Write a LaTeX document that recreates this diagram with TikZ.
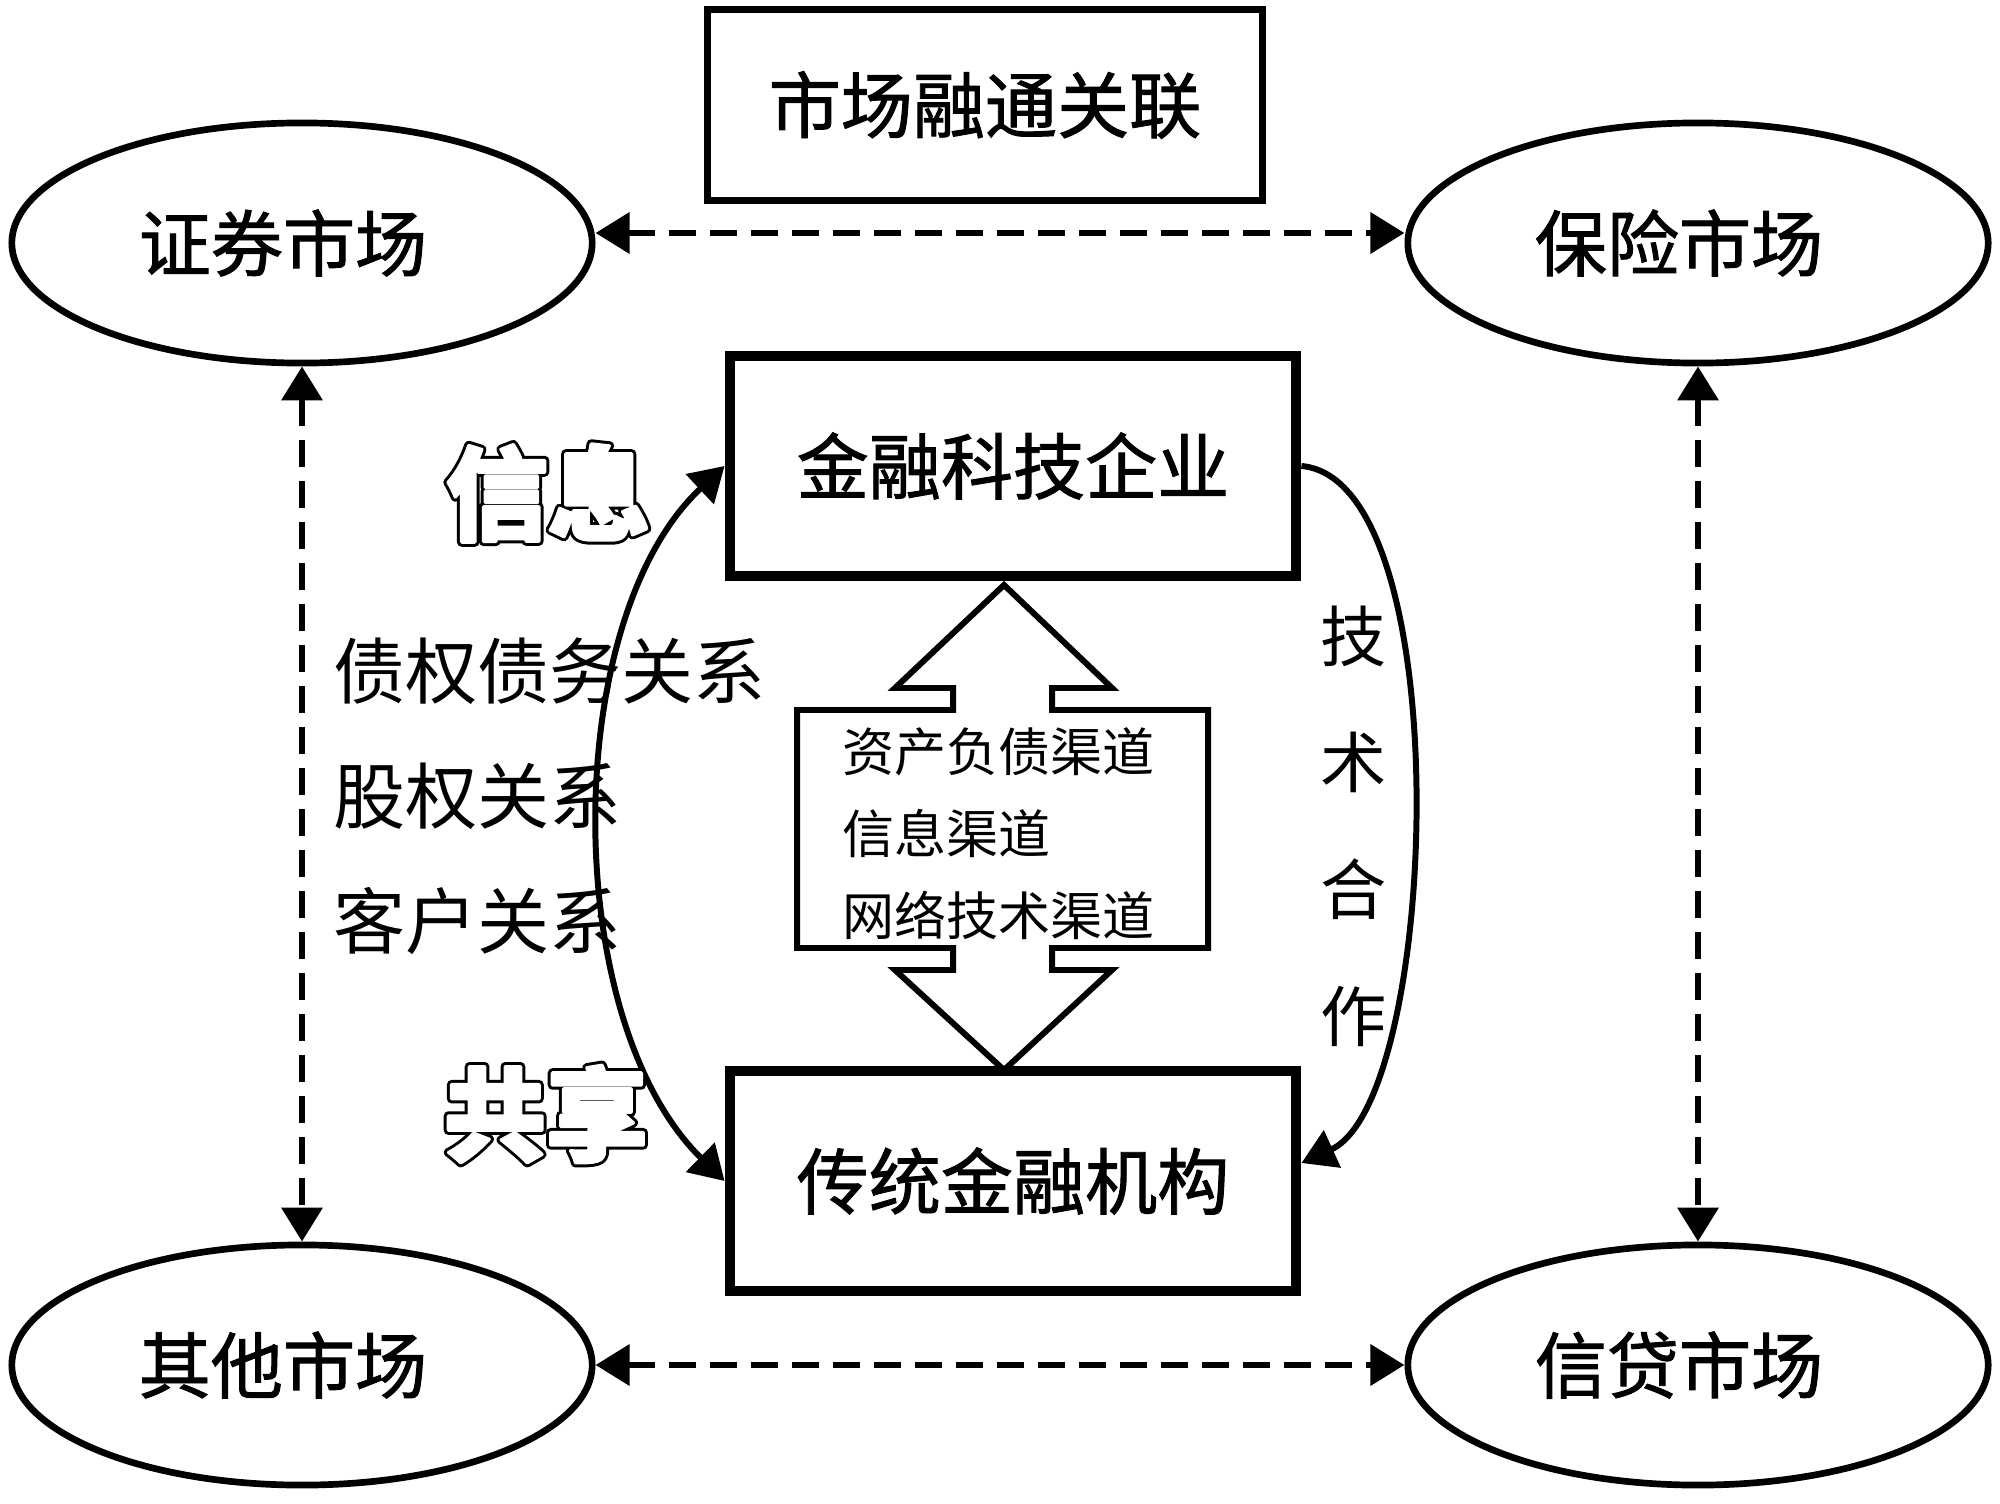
\documentclass[tikz,border=0pt]{standalone}
\usepackage{fontspec}
\newfontfamily\cjk{Noto Sans CJK SC}
\newfontfamily\cjkm[FakeBold=1.3]{Noto Sans CJK SC}
\usetikzlibrary{positioning,arrows.meta,shapes.geometric}
\newcommand\bubbletext[1]{%
  \rlap{\special{pdf:literal direct q 1 Tr 2.6 w 1 j 1 J}#1\special{pdf:literal direct Q}}%
  {\color{white}\special{pdf:literal direct q 2 Tr 0.9 w 1 j 1 J}#1\special{pdf:literal direct Q}}}
\newcommand\mkt[1]{#1\rule{0.38cm}{0pt}}

\begin{document}
\begin{tikzpicture}[
  x=0.01cm, y=-0.01cm,
  >={Triangle[length=0.34cm,width=0.40cm]},
  every node/.style={font=\cjk},
  market/.style={ellipse,draw,line width=1.9pt,minimum width=5.8cm,minimum height=2.4cm,
    font=\cjkm\fontsize{20.5}{24}\selectfont},
  firm/.style={draw,line width=3pt,minimum width=5.66cm,minimum height=2.2cm,
    font=\cjkm\fontsize{20.5}{24}\selectfont},
  link/.style={<->,dash pattern=on 0.27cm off 0.14cm,line width=1.9pt},
  flow/.style={line width=1.7pt},
  bubble/.style={font=\cjk\bfseries\fontsize{29}{32}\selectfont}
]
\useasboundingbox (0,0) rectangle (2000,1503);

% 标题
\node[draw,line width=2pt,minimum width=5.55cm,minimum height=1.9cm,
  font=\cjkm\fontsize{20.5}{24}\selectfont] (title) at (985,105) {市场融通关联};

% 四个市场
\node[market] (zq) at (302,243) {\mkt{证券市场}};
\node[market] (bx) at (1698,243) {\mkt{保险市场}};
\node[market] (qt) at (302,1365) {\mkt{其他市场}};
\node[market] (xd) at (1698,1365) {\mkt{信贷市场}};

\draw[link] ([yshift=0.1cm]zq.east) -- ([yshift=0.1cm]bx.west);
\draw[link] (qt) -- (xd);
\draw[link] (zq) -- (qt);
\draw[link] (bx) -- (xd);

% 两类机构
\node[firm] (tech) at (1013,466) {金融科技企业};
\node[firm] (trad) at (1013,1181) {传统金融机构};

% 渠道双箭头
\draw[line width=1.7pt]
  (1004,585) -- (1112,688) -- (1052,688) -- (1052,710) -- (1208,710)
  -- (1208,948) -- (1052,948) -- (1052,970) -- (1112,970) -- (1004,1070)
  -- (895,970) -- (953,970) -- (953,948) -- (797,948) -- (797,710)
  -- (953,710) -- (953,688) -- (895,688) -- cycle;
\node[align=left,anchor=west,font=\cjk\fontsize{14.8}{23.3}\selectfont]
  (chan) at (830,834) {资产负债渠道\\信息渠道\\网络技术渠道};

% 信息共享
\draw[flow,<->] (tech.west) .. controls (560,620) and (560,1020) .. (trad.west);
\node[bubble] (info) at (548,493) {\bubbletext{信息}};
\node[bubble] (share) at (546,1114) {\bubbletext{共享}};

% 技术合作
\draw[flow,->] (tech.east) .. controls (1460,480) and (1440,1100) .. ([yshift=0.18cm]trad.east);
\node[align=center,font=\cjk\fontsize{18.8}{36}\selectfont] (coop) at (1354,826) {技\\术\\合\\作};

% 关系
\node[align=left,anchor=west,font=\cjk\fontsize{20.5}{35.6}\selectfont]
  (rel) at (321,796) {债权债务关系\\股权关系\\客户关系};
\end{tikzpicture}
\end{document}
